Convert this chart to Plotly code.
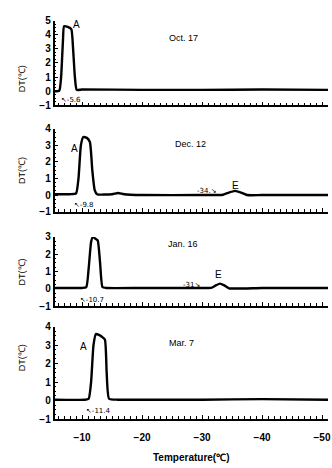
import plotly.graph_objects as go

# ---- data ----
dates = ["Oct. 17", "Dec. 12", "Jan. 16", "Mar. 7"]

t1 = [-5.4, -6.2, -6.5, -6.8, -7.0, -7.6, -8.2, -8.5, -8.8, -9.1, -10, -20, -30, -40, -51]
d1 = [0.0, 0.05, 1.0, 3.5, 4.6, 4.55, 4.4, 3.0, 1.0, 0.1, 0.12, 0.1, 0.1, 0.12, 0.1]

t2 = [-5.4, -8, -9.0, -9.4, -9.8, -10.2, -10.8, -11.3, -11.7, -12.1, -12.5, -15, -16, -17,
      -20, -30, -33.5, -34.5, -35.5, -36.5, -37.5, -40, -51]
d2 = [0.05, 0.05, 0.1, 1.0, 3.0, 3.5, 3.45, 3.2, 1.5, 0.3, 0.05, 0.05, 0.12, 0.05,
      0.0, 0.0, 0.02, 0.15, 0.25, 0.15, 0.0, 0.0, 0.0]

t3 = [-5.4, -10.0, -10.7, -11.1, -11.5, -11.8, -12.2, -12.6, -13.0, -13.4, -14, -20, -30,
      -31.5, -32.3, -33.0, -33.7, -34.5, -40, -51]
d3 = [0.05, 0.05, 0.1, 1.2, 2.7, 3.0, 2.9, 2.8, 1.5, 0.1, 0.05, 0.05, 0.05,
      0.05, 0.2, 0.3, 0.2, 0.03, 0.05, 0.05]

t4 = [-5.4, -10.5, -11.1, -11.5, -11.9, -12.3, -12.8, -13.3, -13.8, -14.1, -14.5, -16, -20, -30, -40, -51]
d4 = [0.05, 0.05, 0.1, 1.0, 3.0, 3.6, 3.55, 3.45, 3.3, 1.5, 0.1, 0.05, 0.05, 0.05, 0.08, 0.05]

temps = [t1, t2, t3, t4]
dts = [d1, d2, d3, d4]
y_ranges = [[-1, 5], [-1, 4], [-1, 3], [-1, 4]]
onset_labels = ["↖-5.6", "↖-9.8", "↖-10.7", "↖-11.4"]

# ---- layout geometry (pixels) ----
W, H = 332, 468
panel_px = [(15, 102), (126, 211), (237, 308), (329, 424)]
x_left, x_right = 55, 331
x_range = [-5.4, -51.0]

FONT = "Liberation Sans, Arial, sans-serif"
SYM_FONT = "DejaVu Sans, Liberation Sans, sans-serif"

fig = go.Figure()
for i in range(4):
    n = "" if i == 0 else str(i + 1)
    fig.add_trace(go.Scatter(
        x=temps[i], y=dts[i], mode="lines",
        line=dict(color="black", width=2.4, shape="spline", smoothing=0.5),
        xaxis="x" + n, yaxis="y" + n, showlegend=False, hoverinfo="skip"))

layout = dict(
    width=W, height=H,
    margin=dict(l=0, r=0, t=0, b=0),
    paper_bgcolor="white", plot_bgcolor="white",
    font=dict(family=FONT, color="black", size=10),
    showlegend=False,
)

for i in range(4):
    n = "" if i == 0 else str(i + 1)
    top, bot = panel_px[i]
    dom_y = [1 - bot / H, 1 - top / H]
    last = (i == 3)
    layout["xaxis" + n] = dict(
        domain=[x_left / W, x_right / W], range=x_range, anchor="y" + n,
        showline=True, linecolor="black", linewidth=1.5, mirror=False,
        showgrid=False, zeroline=False,
        ticks="inside", ticklen=4, tickwidth=1, tickcolor="black",
        tickmode="linear", tick0=0, dtick=10, showticklabels=last,
        ticklabeloverflow="allow", ticklabelstandoff=8,
        tickfont=dict(family=FONT, size=10, color="black", weight="bold"),
        minor=dict(ticks="inside", ticklen=3, dtick=1, tickcolor="black", tickwidth=1, showgrid=False),
        title=dict(text="Temperature(℃)" if last else "",
                   font=dict(family=FONT, size=10, weight="bold"), standoff=12),
    )
    yr = y_ranges[i]
    layout["yaxis" + n] = dict(
        domain=dom_y, range=yr, anchor="x" + n,
        showline=True, linecolor="black", linewidth=1.5,
        showgrid=False, zeroline=False,
        ticks="inside", ticklen=4, tickwidth=1, tickcolor="black",
        tickmode="linear", tick0=0, dtick=1,
        tickfont=dict(family=FONT, size=10, color="black", weight="bold"),
        minor=dict(ticks="inside", ticklen=2, dtick=0.25, tickcolor="black", tickwidth=1, showgrid=False),
    )

fig.update_layout(**layout)

anns = []
def axref(i):
    n = "" if i == 0 else str(i + 1)
    return "x" + n, "y" + n

# date titles
date_pos = [(-26.9, 3.8), (-28.0, 3.1), (-26.9, 2.6), (-26.6, 3.1)]
for i in range(4):
    xr, yr_ = axref(i)
    anns.append(dict(x=date_pos[i][0], y=date_pos[i][1], xref=xr, yref=yr_, text=dates[i],
                     showarrow=False, font=dict(size=9, family=FONT)))
# onset labels
onset_pos = [(-8.2, -0.62), (-10.4, -0.62), (-11.7, -0.62), (-12.8, -0.55)]
for i in range(4):
    xr, yr_ = axref(i)
    anns.append(dict(x=onset_pos[i][0], y=onset_pos[i][1], xref=xr, yref=yr_, text=onset_labels[i],
                     showarrow=False, font=dict(size=7, family=SYM_FONT, color="black")))
# peak letters
peak_letters = [(0, -9.0, 4.75, "A"), (1, -8.7, 2.8, "A"), (3, -10.2, 2.9, "A"),
                (1, -35.6, 0.55, "E"), (2, -32.7, 0.85, "E")]
for i, x, y, s in peak_letters:
    xr, yr_ = axref(i)
    anns.append(dict(x=x, y=y, xref=xr, yref=yr_, text=s, showarrow=False,
                     font=dict(size=10, family=FONT)))
# E onset labels
e_labels = [(1, -30.8, 0.25, "-34.↘"), (2, -28.2, 0.22, "-31↘")]
for i, x, y, s in e_labels:
    xr, yr_ = axref(i)
    anns.append(dict(x=x, y=y, xref=xr, yref=yr_, text=s, showarrow=False,
                     font=dict(size=7, family=SYM_FONT, color="black")))
# y-axis titles
for i in range(4):
    top, bot = panel_px[i]
    anns.append(dict(x=15 / W, y=1 - (top + bot) / 2 / H, xref="paper", yref="paper",
                     text="DT(℃)", textangle=-90, showarrow=False,
                     font=dict(size=9, family=FONT)))

fig.update_layout(annotations=anns)
fig.write_html("out.html")
